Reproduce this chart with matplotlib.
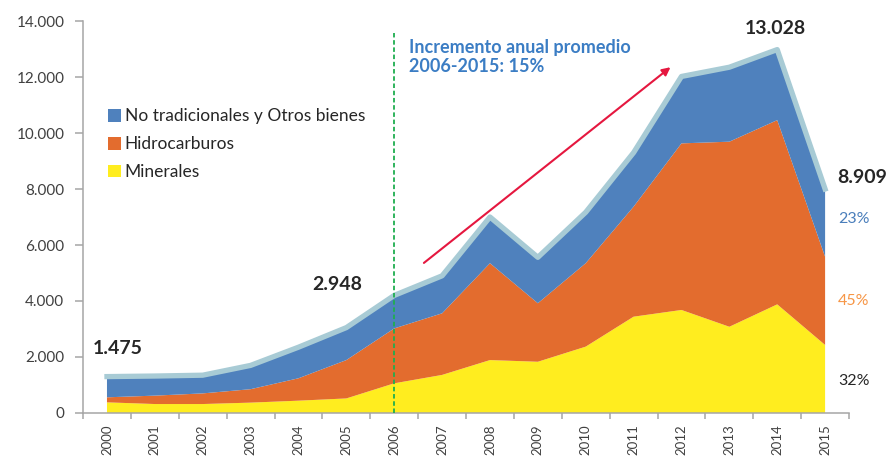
# Exportaciones por tipo de bien 2000-2015 (área apilada)

import numpy as np
import matplotlib.pyplot as plt
from matplotlib.patches import Patch

plt.rcParams['font.family'] = ['Lato', 'DejaVu Sans']

# datos
anios = ['2000', '2001', '2002', '2003', '2004', '2005', '2006', '2007',
         '2008', '2009', '2010', '2011', '2012', '2013', '2014', '2015']
minerales = [380, 320, 320, 370, 440, 520, 1060, 1360,
             1890, 1830, 2370, 3440, 3680, 3080, 3880, 2430]
hidrocarburos = [180, 300, 380, 480, 800, 1370, 1960, 2200,
                 3460, 2090, 2980, 3930, 5950, 6610, 6580, 3150]
otros = [740, 700, 650, 850, 1110, 1160, 1180, 1340,
         1650, 1640, 1820, 1930, 2390, 2660, 2520, 2420]

# etiquetas de total y participación 2015
totales_lbl = {0: '1.475', 5: '2.948', 14: '13.028', 15: '8.909'}
part_2015 = ['32%', '45%', '23%']

series = ['Minerales', 'Hidrocarburos', 'No tradicionales y Otros bienes']
colores = ['#ffed1f', '#e36c2e', '#4f81bd']

x = np.arange(len(anios))
total = np.array(minerales) + np.array(hidrocarburos) + np.array(otros)

fig = plt.figure(figsize=(8.91, 4.57), dpi=100)
ax = fig.add_axes([0.0932, 0.0963, 0.8597, 0.8577])

ax.stackplot(x, minerales, hidrocarburos, otros, colors=colores, linewidth=0)
# contorno del total
ax.plot(x, total, color='#a8cbd5', lw=3.8, solid_joinstyle='round', zorder=3)

ax.set_xlim(-0.5, 15.5)
ax.set_ylim(0, 14000)

# ejes
for s in ['top', 'right']:
    ax.spines[s].set_visible(False)
for s in ['left', 'bottom']:
    ax.spines[s].set_color('#a6a6a6')
    ax.spines[s].set_linewidth(1.1)

yt = np.arange(0, 14001, 2000)
ax.set_yticks(yt)
ax.set_yticklabels([f'{v:,.0f}'.replace(',', '.') for v in yt],
                   fontsize=11, color='#404040')
ax.tick_params(axis='y', direction='out', length=5.5, width=1.1,
               color='#a6a6a6', pad=8)

ax.set_xticks(x)
ax.set_xticklabels(anios, rotation=90, fontsize=9.5, color='#404040')
ax.tick_params(axis='x', which='major', length=0, pad=8)
ax.set_xticks(np.arange(-0.5, 16, 1), minor=True)
ax.tick_params(axis='x', which='minor', direction='out', length=4.5,
               width=1.1, color='#a6a6a6')

# línea 2006
ax.plot([6, 6], [0, 13570], color='#1fae4f', lw=1.3, ls=(0, (2.5, 1.5)),
        zorder=4)
ax.text(6.3, 13350, 'Incremento anual promedio\n2006-2015: 15%',
        color='#3b7dc4', fontsize=13, fontweight='bold', va='top',
        linespacing=1.13)

# flecha de tendencia
ax.annotate('', xy=(11.77, 12350), xytext=(6.62, 5360),
            arrowprops=dict(arrowstyle='-|>', color='#e5173f', lw=1.5,
                            mutation_scale=12, shrinkA=0, shrinkB=0))

# etiquetas de totales
pos_lbl = {0: (0.23, 2320), 5: (4.81, 4600), 14: (13.96, 13730), 15: (15.78, 8410)}
for i, t in totales_lbl.items():
    ax.text(pos_lbl[i][0], pos_lbl[i][1], t, fontsize=14, fontweight='bold',
            color='#262626', ha='center', va='center', clip_on=False)

# participación 2015
col_part = ['#262626', '#f79646', '#4a7ebb']
y_part = [1140, 4000, 6930]
for t, c, yy in zip(part_2015, col_part, y_part):
    ax.text(15.6, yy, t, fontsize=11.5, color=c, ha='center', va='center',
            clip_on=False)

# leyenda
handles = [Patch(facecolor=colores[i], edgecolor='none', label=series[i])
           for i in [2, 1, 0]]
ax.legend(handles=handles, loc='upper left', bbox_to_anchor=(0.0326, 0.777),
          frameon=False, fontsize=12.5, handlelength=0.75, handleheight=0.75,
          handletextpad=0.2, labelspacing=0.68, borderaxespad=0, borderpad=0,
          labelcolor='#262626')

fig.savefig('out.png', dpi=100)
